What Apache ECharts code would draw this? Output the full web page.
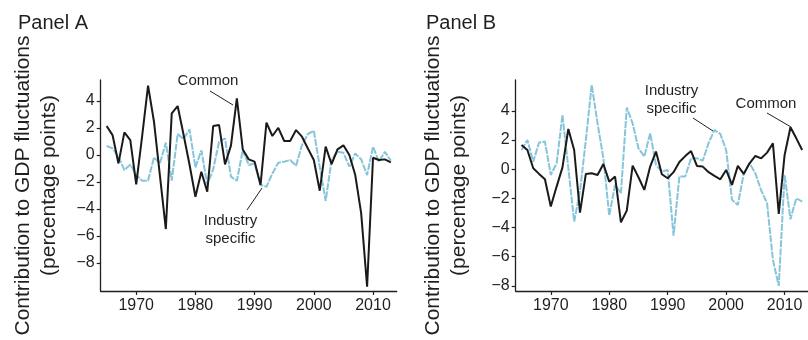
<!DOCTYPE html>
<html>
<head>
<meta charset="utf-8">
<script src="https://cdn.jsdelivr.net/npm/echarts@6/dist/echarts.min.js"></script>
<style>html,body{margin:0;padding:0;background:#fff;}#c{width:808px;height:340px;}</style>
</head>
<body>
<div id="c"></div>
<script>
const years = [1965,1966,1967,1968,1969,1970,1971,1972,1973,1974,1975,1976,1977,1978,1979,1980,1981,1982,1983,1984,1985,1986,1987,1988,1989,1990,1991,1992,1993,1994,1995,1996,1997,1998,1999,2000,2001,2002,2003,2004,2005,2006,2007,2008,2009,2010,2011,2012,2013];

const panelACommon = [2.15,1.48,-0.62,1.68,1.1,-2.17,1.4,5.14,2.47,-1.5,-5.48,3.09,3.63,1.5,-0.7,-3.09,-1.23,-2.72,2.15,2.22,-0.69,0.7,4.2,0.42,-0.32,-0.49,-2.22,2.4,1.41,2.02,1.04,1.04,1.85,1.36,0.49,-0.37,-2.64,0.62,-0.67,0.42,0.72,0.0,-1.48,-4.32,-9.75,-0.2,-0.37,-0.32,-0.54];
const panelAIndustry = [0.67,0.49,-0.12,-1.11,-0.69,-1.48,-1.9,-1.9,-0.17,-0.62,0.91,-1.9,1.56,1.19,1.9,-0.91,0.35,-2.17,-1.06,0.99,1.23,-1.6,-1.9,0.37,-0.74,-0.62,-2.22,-2.35,-1.36,-0.57,-0.49,-0.37,-0.79,0.74,1.56,1.8,-0.86,-3.4,-0.37,0.25,0.17,-0.86,0.12,-0.32,-1.48,0.62,-0.49,0.25,-0.42];
const panelBCommon = [1.67,1.32,0.07,-0.32,-0.69,-2.56,-1.19,0.13,2.76,1.32,-2.97,-0.32,-0.28,-0.39,0.36,-0.85,-0.5,-3.64,-2.84,0.25,-0.55,-1.42,0.18,1.21,-0.34,-0.62,-0.2,0.5,0.9,1.25,0.23,0.18,-0.2,-0.46,-0.69,-0.05,-1.07,0.23,-0.32,0.41,0.91,0.75,1.14,1.78,-3.06,0.98,2.88,2.12,1.32];
const panelBIndustry = [1.32,2.01,0.52,1.83,1.9,-0.39,0.41,3.72,0.1,-3.59,-1.5,2.0,5.78,3.15,0.75,-3.18,-1.07,-1.65,4.23,3.15,1.44,0.87,2.47,0.3,-0.16,-0.05,-4.55,-0.5,-0.5,0.75,0.75,0.59,1.8,2.69,2.42,1.32,-2.1,-2.45,-0.32,0.41,-0.28,-1.46,-2.33,-6.22,-8.0,-0.39,-3.43,-1.99,-2.22];

const xTicks = [1970,1980,1990,2000,2010];
const yTicks = [-8,-6,-4,-2,0,2,4];
const panelTitles = ['Panel A','Panel B'];
const yAxisTitle = 'Contribution to GDP fluctuations\n(percentage points)';

const FONT = '"Liberation Sans", Arial, Helvetica, sans-serif';
const TXT = '#231f20';
const BLUE = '#86c5da';

function pairs(vals){ return years.map((y,i)=>[y, vals[i]]); }
function fmtY(v){ return v < 0 ? '\u2212' + Math.abs(v) : String(v); }
function fmtX(v){ return String(v); }

function xAxisCfg(idx){
  return {
    type:'value', gridIndex: idx, min:1964, max:2014,
    axisLine:{show:true, onZero:false, lineStyle:{color:'#231f20', width:1.3}},
    axisTick:{show:true, customValues:xTicks, length:4, lineStyle:{color:'#231f20', width:1.2}},
    axisLabel:{customValues:xTicks, color:TXT, fontSize:16, fontFamily:FONT, margin:7, formatter:fmtX},
    splitLine:{show:false}
  };
}
function yAxisCfg(idx, mn, mx, gap){
  return {
    type:'value', gridIndex: idx, min:mn, max:mx,
    name: yAxisTitle, nameLocation:'middle', nameRotate:90, nameGap:gap,
    nameTextStyle:{color:TXT, fontSize:21, fontFamily:FONT, lineHeight:26},
    axisLine:{show:true, onZero:false, lineStyle:{color:'#231f20', width:1.3}},
    axisTick:{show:true, customValues:yTicks, length:4, lineStyle:{color:'#231f20', width:1.2}},
    axisLabel:{customValues:yTicks, color:TXT, fontSize:16, fontFamily:FONT, margin:6, formatter:fmtY},
    splitLine:{show:false}
  };
}
function lineSeries(idx, vals, isCommon){
  return {
    type:'line', xAxisIndex:idx, yAxisIndex:idx, data:pairs(vals),
    symbol:'none', smooth:false, z: isCommon ? 3 : 2,
    lineStyle: isCommon ? {color:'#1a1a1a', width:2} : {color:BLUE, width:2, type:[7,1.2]}
  };
}

const annStyle = {fill:TXT, fontSize:15, fontFamily:FONT, textAlign:'center', textVerticalAlign:'middle'};
function txt(x,y,s){ return {type:'text', x:x, y:y, style:Object.assign({text:s}, annStyle)}; }
function seg(x1,y1,x2,y2){ return {type:'line', shape:{x1:x1,y1:y1,x2:x2,y2:y2}, style:{stroke:'#231f20', lineWidth:1}}; }

const chart = echarts.init(document.getElementById('c'), null, {renderer:'canvas'});
chart.setOption({
  animation:false,
  backgroundColor:'#fff',
  title:[
    {text:panelTitles[0], left:13, top:8, textStyle:{color:TXT, fontSize:20, fontWeight:'normal', fontFamily:FONT}},
    {text:panelTitles[1], left:421, top:8, textStyle:{color:TXT, fontSize:20, fontWeight:'normal', fontFamily:FONT}}
  ],
  grid:[
    {left:100.7, top:80, width:296, height:211, containLabel:false},
    {left:515.7, top:80, width:296.5, height:211, containLabel:false}
  ],
  xAxis:[xAxisCfg(0), xAxisCfg(1)],
  yAxis:[yAxisCfg(0, -10.07, 5.56, 38), yAxisCfg(1, -8.35, 6.12, 43)],
  series:[
    lineSeries(0, panelAIndustry, false),
    lineSeries(0, panelACommon, true),
    lineSeries(1, panelBIndustry, false),
    lineSeries(1, panelBCommon, true)
  ],
  graphic:[
    txt(208,81,'Common'), seg(210,91,233,105),
    txt(230.5,221,'Industry'), txt(230.5,239,'specific'), seg(247,210,262,188),
    txt(671.5,91,'Industry'), txt(671.5,109,'specific'), seg(693,118,713,131),
    txt(766,104,'Common'), seg(767,113,791,127)
  ]
});
</script>
</body>
</html>
